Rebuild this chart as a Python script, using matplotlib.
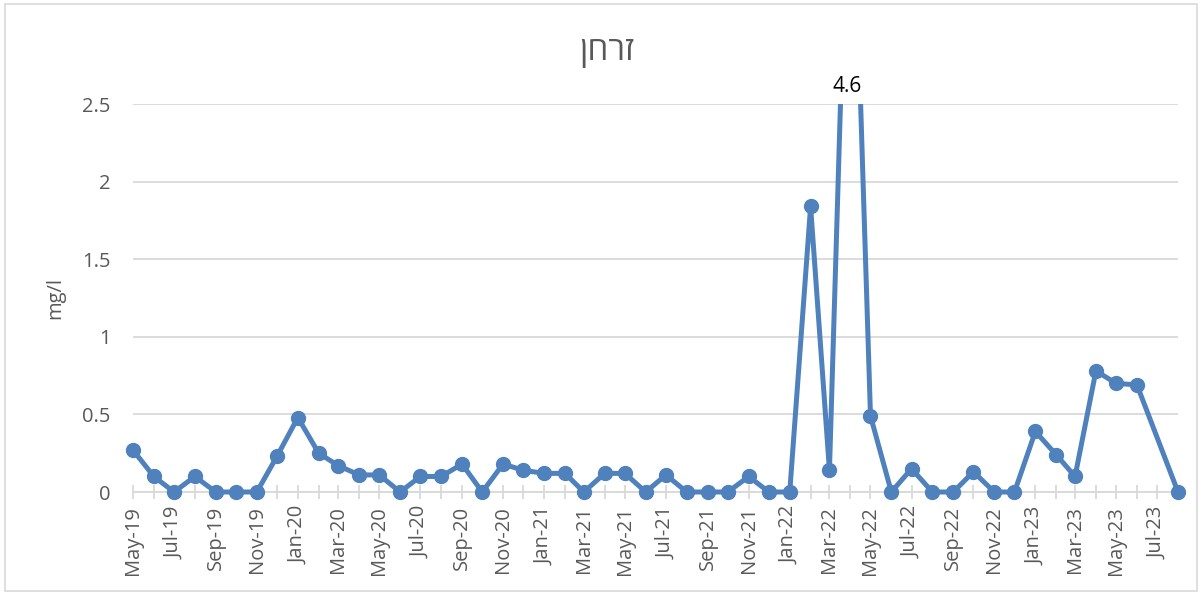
import matplotlib
matplotlib.use("Agg")
import matplotlib.pyplot as plt
import matplotlib.dates as mdates
import matplotlib.patches as patches
import pandas as pd

months = ["2019-05", "2019-06", "2019-07", "2019-08", "2019-09", "2019-10", "2019-11", "2019-12",
          "2020-01", "2020-02", "2020-03", "2020-04", "2020-05", "2020-06", "2020-07", "2020-08",
          "2020-09", "2020-10", "2020-11", "2020-12", "2021-01", "2021-02", "2021-03", "2021-04",
          "2021-05", "2021-06", "2021-07", "2021-08", "2021-09", "2021-10", "2021-11", "2021-12",
          "2022-01", "2022-02", "2022-03", "2022-04", "2022-05", "2022-06", "2022-07", "2022-08",
          "2022-09", "2022-10", "2022-11", "2022-12", "2023-01", "2023-02", "2023-03", "2023-04",
          "2023-05", "2023-06", "2023-08"]
values = [0.27, 0.10, 0.0, 0.10, 0.0, 0.0, 0.0, 0.23,
          0.48, 0.25, 0.17, 0.11, 0.11, 0.0, 0.10, 0.10,
          0.18, 0.0, 0.18, 0.14, 0.12, 0.12, 0.0, 0.12,
          0.12, 0.0, 0.11, 0.0, 0.0, 0.0, 0.10, 0.0,
          0.0, 1.84, 0.14, 4.6, 0.49, 0.0, 0.15, 0.0,
          0.0, 0.13, 0.0, 0.0, 0.39, 0.24, 0.10, 0.78,
          0.70, 0.69, 0.0]
title = "זרחן"
y_label = "mg/l"
peak_label = "4.6"
peak_month = "2022-04"

plt.rcParams["font.family"] = ["Open Sans", "DejaVu Sans"]

dates = pd.to_datetime(months, format="%Y-%m")

W, H = 1202, 596
fig = plt.figure(figsize=(W / 100, H / 100), dpi=100)
fig.patches.append(patches.Rectangle((5 / W, 5 / H), 1192 / W, 587 / H, transform=fig.transFigure,
                                     fill=False, edgecolor="#D9D9D9", linewidth=1.2))
ax = fig.add_axes([133 / W, 1 - 492 / H, (1178 - 133) / W, (492 - 104) / H])

blue = "#4F81BD"
grey = "#595959"
line, = ax.plot(dates, values, color=blue, linewidth=3.6, marker="o", markersize=10,
                solid_joinstyle="round", zorder=3)
clip = patches.Rectangle((-0.05, -0.1), 1.1, 1.1, transform=ax.transAxes, fill=False)
line.set_clip_path(clip)

ax.set_ylim(0, 2.5)
ax.set_xlim(pd.Timestamp("2019-05-01"), pd.Timestamp("2023-08-01"))
ax.set_yticks([0, 0.5, 1, 1.5, 2, 2.5])
ax.set_yticklabels(["0", "0.5", "1", "1.5", "2", "2.5"])
ax.yaxis.grid(True, color="#D9D9D9", linewidth=1.3)
ax.set_axisbelow(True)

ax.xaxis.set_major_locator(mdates.MonthLocator(bymonth=[1, 3, 5, 7, 9, 11]))
ax.xaxis.set_minor_locator(mdates.MonthLocator())
ax.xaxis.set_major_formatter(mdates.DateFormatter("%b-%y"))
for s in ["top", "right", "left"]:
    ax.spines[s].set_visible(False)
ax.spines["bottom"].set_color("#D9D9D9")
ax.spines["bottom"].set_linewidth(1.3)
ax.tick_params(axis="x", which="both", direction="inout", length=10.5, width=1.3, color="#D9D9D9",
               labelcolor=grey, labelsize=14.5, rotation=90, pad=5)
ax.tick_params(axis="y", length=0, labelcolor=grey, labelsize=14.5, pad=16)

ax.set_ylabel(y_label, color=grey, fontsize=14.5, labelpad=12)

ax.annotate(peak_label, xy=(pd.Timestamp(peak_month + "-01"), 1.0),
            xycoords=("data", "axes fraction"), xytext=(-2, 5), textcoords="offset points",
            ha="center", va="bottom", fontsize=15, color="black")

fig.text(607 / W, 1 - 52 / H, title[::-1], ha="center", va="center", fontsize=24, color=grey,
         family=["Open Sans", "DejaVu Sans"])

fig.savefig("out.png", dpi=100)
